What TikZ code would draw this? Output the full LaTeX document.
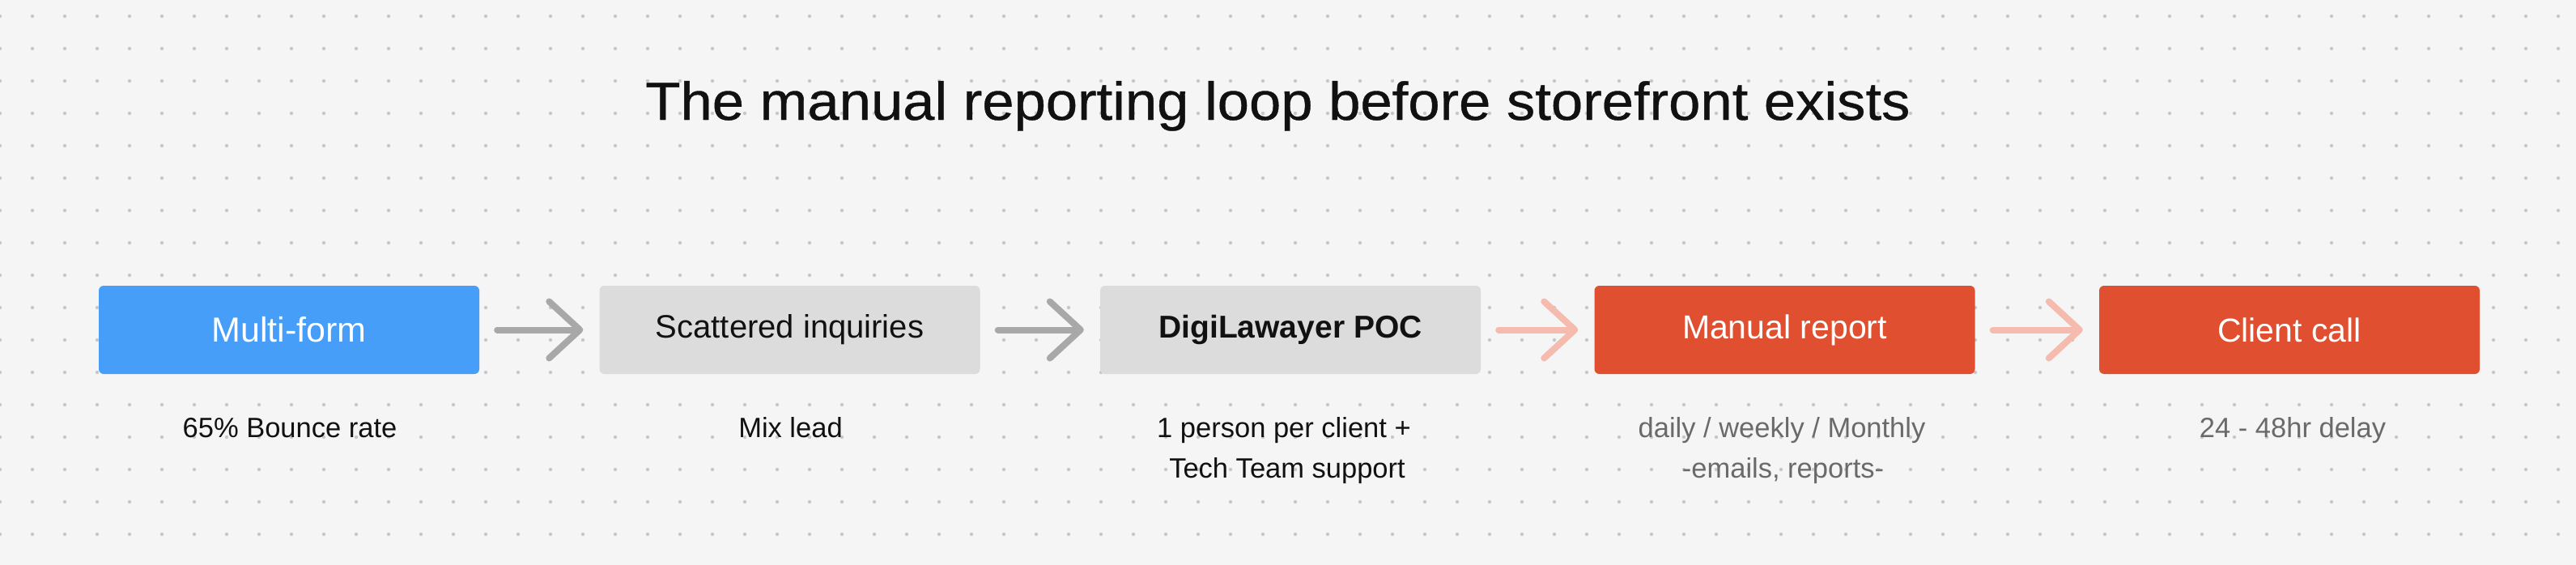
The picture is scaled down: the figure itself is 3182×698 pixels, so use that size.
\documentclass[tikz,border=0pt]{standalone}
\usepackage{fontspec}
\setmainfont{Liberation Sans}
\newfontfamily\titlefont[FakeBold=0.6]{Liberation Sans}
\usetikzlibrary{arrows.meta}
\definecolor{bgc}{HTML}{F5F5F5}
\definecolor{dotc}{HTML}{C8C8C8}
\definecolor{bluebox}{HTML}{479EF8}
\definecolor{graybox}{HTML}{DCDCDC}
\definecolor{redbox}{HTML}{E05030}
\definecolor{arrgray}{HTML}{A8A8A8}
\definecolor{arrpink}{HTML}{F4BBAE}
\definecolor{subgray}{HTML}{6A6A6A}
\definecolor{ink}{HTML}{111111}
\tikzset{
  boxnode/.style={rounded corners=6pt, minimum width=470pt, minimum height=109pt, inner sep=0pt, anchor=center},
  boxtext/.style={font=\fontsize{41}{49}\selectfont},
  sublabel/.style={anchor=base, inner sep=0pt, font=\fontsize{34.5}{41}\selectfont},
  flowarrow/.style={line width=8pt, line cap=round, line join=round,
    -{Straight Barb[length=38pt, width=70pt, line cap=round, line join=round]},
    shorten <=22pt, shorten >=20pt},
}
\begin{document}
\begin{tikzpicture}[x=1pt,y=-1pt]
\useasboundingbox (0,0) rectangle (3182,698);
\fill[bgc] (0,0) rectangle (3182,698);
% dot grid
\foreach \i in {0,...,79}{
  \foreach \j in {0,...,16}{
    \fill[dotc] (40*\i,20+40*\j) circle (2.2pt);
  }
}
% title
\node[anchor=base, inner sep=0pt, text=ink, font=\titlefont\fontsize{66}{78}\selectfont] (title) at (1578.5,148) {\scalebox{1.07}[1]{The manual reporting loop before storefront exists}};
% boxes
\node[boxnode, fill=bluebox, text=white, boxtext, font=\fontsize{43}{51}\selectfont] (b1) at (357,407.5) {Multi-form};
\node[boxnode, fill=graybox, text=ink, boxtext, font=\fontsize{40}{48}\selectfont] (b2) at (975.5,407.5) {Scattered inquiries};
\node[boxnode, fill=graybox, text=ink, boxtext, font=\fontsize{39}{47}\selectfont\bfseries] (b3) at (1594,407.5) {DigiLawayer POC};
\node[boxnode, fill=redbox, text=white, boxtext] (b4) at (2204.5,407.5) {Manual report};
\node[boxnode, fill=redbox, text=white, boxtext] (b5) at (2828,407.5) {Client call};
% arrows
\draw[flowarrow, arrgray] (b1) -- (b2);
\draw[flowarrow, arrgray] (b2) -- (b3);
\draw[flowarrow, arrpink] (b3) -- (b4);
\draw[flowarrow, arrpink] (b4) -- (b5);
% sub labels
\node[sublabel, text=ink] (s1) at (358,540.7) {65\% Bounce rate};
\node[sublabel, text=ink] (s2) at (976.5,540.7) {Mix lead};
\node[sublabel, text=ink] (s3a) at (1586,540.7) {1 person per client +};
\node[sublabel, text=ink] (s3b) at (1590,590) {Tech Team support};
\node[sublabel, text=subgray] (s4a) at (2201,540.7) {daily / weekly / Monthly};
\node[sublabel, text=subgray] (s4b) at (2202.5,590) {-emails, reports-};
\node[sublabel, text=subgray] (s5) at (2832,540.7) {24 - 48hr delay};
\end{tikzpicture}
\end{document}
